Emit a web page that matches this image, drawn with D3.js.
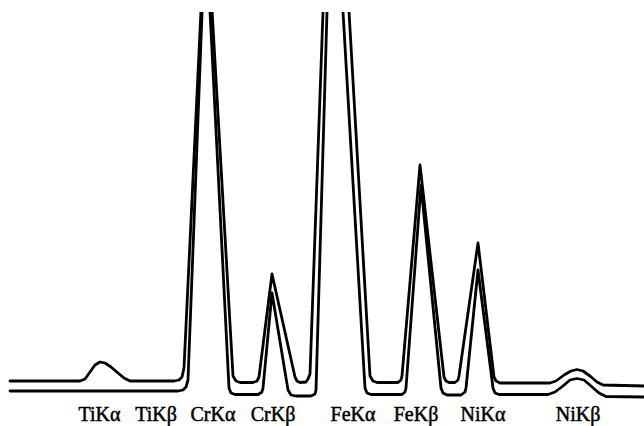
<!DOCTYPE html>
<html>
<head>
<meta charset="utf-8">
<script src="https://cdn.jsdelivr.net/npm/d3@7"></script>
<style>
  html, body { margin: 0; padding: 0; background: #fff; }
  svg { display: block; }
</style>
</head>
<body>
<svg id="chart" width="644" height="426"></svg>
<script>
// spectrum A (upper trace): channel, counts
const channelsA = [0, 70, 75, 80, 85, 90, 95, 101, 108, 114, 120, 164, 169, 172, 174, 196, 223, 226, 230, 243, 247, 249, 262, 285, 287, 290, 296, 298, 300, 323, 360, 363, 367, 388, 391, 392, 410, 434, 436, 439, 445, 448, 449, 468, 484, 486, 490, 540, 546, 554, 561, 567, 573, 580, 587, 593, 634];
const countsA = [19, 19, 21, 28, 35, 38, 37, 33, 27, 22, 19, 19, 20, 23, 32, 495, 24, 19, 17.5, 17.5, 19, 23, 126, 23, 19, 17.5, 18, 21, 26, 666, 24, 19, 17.5, 17.5, 20, 24, 235, 23, 19, 17.5, 17.5, 20, 24, 157, 23, 19, 17, 17, 19, 25, 29, 30.5, 29, 24, 18, 15, 14];

// spectrum B (lower trace): channel, counts
const channelsB = [0, 168, 173, 176, 178, 195.5, 219, 221, 225, 248, 252, 253, 262, 278, 281, 286, 301, 305, 306, 322.3, 355, 357, 361, 392, 395, 396, 411, 431, 433, 437, 451, 455, 456, 468, 483, 485, 489, 538, 545, 553, 560, 567, 574, 581, 589, 596, 634];
const countsB = [9, 9, 10, 13, 20, 478, 12, 7, 5.5, 5.5, 8, 12, 107, 10, 5, 4, 4, 6, 10, 571, 12, 7, 5.5, 5.5, 8, 12, 215, 12, 7, 5, 5, 8, 12, 130, 12, 7, 5.5, 5.5, 8, 14, 20, 21.5, 20, 14, 7, 3.5, 3];

// peak labels and their channel positions
const peakLabels = ['TiKα', 'TiKβ', 'CrKα', 'CrKβ', 'FeKα', 'FeKβ', 'NiKα', 'NiKβ'];
const labelChannels = [89.5, 146, 203, 263, 343, 406, 473, 568];

const width = 644;
const height = 426;

const svg = d3.select('#chart');

// scales
const x = d3.scaleLinear().domain([0, 634]).range([10, 644]);
const y = d3.scaleLinear().domain([0, 390]).range([400, 10]);

// clip the tall peaks at the top edge
svg.append('defs')
  .append('clipPath')
  .attr('id', 'plotclip')
  .append('rect')
  .attr('x', 0)
  .attr('y', 12)
  .attr('width', width)
  .attr('height', height - 12);

const line = d3.line()
  .x(d => x(d[0]))
  .y(d => y(d[1]))
  .curve(d3.curveLinear);

const traces = [
  d3.zip(channelsA, countsA),
  d3.zip(channelsB, countsB)
];

svg.append('g')
  .attr('clip-path', 'url(#plotclip)')
  .selectAll('path')
  .data(traces)
  .enter()
  .append('path')
  .attr('d', line)
  .attr('fill', 'none')
  .attr('stroke', '#000')
  .attr('stroke-width', 2.8)
  .attr('stroke-linejoin', 'round')
  .attr('stroke-linecap', 'round');

// labels under the peaks
svg.append('g')
  .selectAll('text')
  .data(peakLabels)
  .enter()
  .append('text')
  .attr('x', (d, i) => x(labelChannels[i]))
  .attr('y', 421)
  .attr('text-anchor', 'middle')
  .style('font-family', '"Liberation Serif", "DejaVu Serif", serif')
  .style('font-size', '20px')
  .style('fill', '#000')
  .style('stroke', '#000')
  .style('stroke-width', 0.5)
  .text(d => d);
</script>
</body>
</html>
